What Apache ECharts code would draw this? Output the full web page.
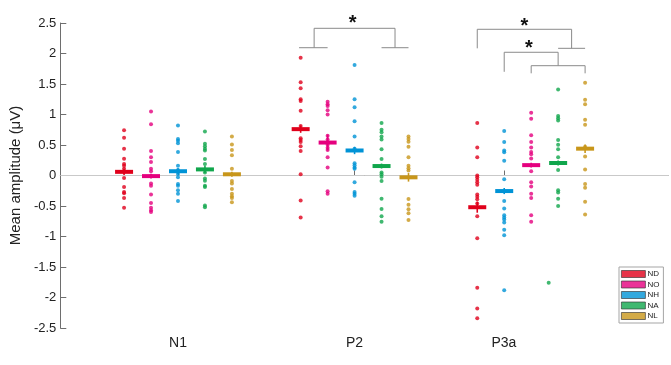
<!DOCTYPE html>
<html>
<head>
<meta charset="utf-8">
<script src="https://cdn.jsdelivr.net/npm/echarts@6/dist/echarts.min.js"></script>
<style>
html,body{margin:0;padding:0;background:#fff;}
#chart{width:671px;height:365px;}
</style>
</head>
<body>
<div id="chart"></div>
<script>
// ---------- data ----------
const groups = ['N1', 'P2', 'P3a'];
const conditions = ['ND', 'NO', 'NH', 'NA', 'NL'];
const colors = ['#E0001B', '#E5007E', '#0093D6', '#10A64C', '#C8961A'];
// column order of the conditions inside each group
const orderN1 = ['ND', 'NO', 'NH', 'NA', 'NL'];
const orderP2 = ['ND', 'NO', 'NH', 'NA', 'NL'];
const orderP3a = ['ND', 'NH', 'NO', 'NA', 'NL'];

// individual amplitudes (µV)
const N1_ND = [0.74, 0.62, 0.44, 0.275, 0.19, 0.16, 0.11, 0.06, -0.04, -0.19, -0.27, -0.29, -0.37, -0.53];
const N1_NO = [1.05, 0.84, 0.40, 0.30, 0.22, 0.11, 0.07, -0.01, -0.13, -0.17, -0.31, -0.45, -0.53, -0.57, -0.60];
const N1_NH = [0.82, 0.60, 0.57, 0.53, 0.385, 0.16, 0.09, 0.025, -0.03, -0.14, -0.17, -0.24, -0.30, -0.42];
const N1_NA = [0.72, 0.52, 0.48, 0.44, 0.41, 0.27, 0.19, 0.05, -0.05, -0.085, -0.17, -0.19, -0.49, -0.52];
const N1_NL = [0.64, 0.51, 0.42, 0.33, 0.11, -0.09, -0.13, -0.22, -0.30, -0.34, -0.37, -0.44];

const P2_ND = [1.93, 1.53, 1.43, 1.25, 1.22, 1.06, 0.81, 0.61, 0.58, 0.55, 0.48, 0.40, 0.02, -0.41, -0.69];
const P2_NO = [1.21, 1.17, 1.14, 1.07, 1.00, 0.65, 0.59, 0.505, 0.455, 0.42, 0.30, 0.13, -0.26, -0.30];
const P2_NH = [1.81, 1.25, 1.12, 0.89, 0.64, 0.44, 0.20, 0.17, 0.13, 0.11, -0.11, -0.27, -0.30, -0.33];
const P2_NA = [0.86, 0.75, 0.71, 0.64, 0.59, 0.43, 0.27, 0.05, 0.02, -0.02, -0.09, -0.38, -0.55, -0.67, -0.76];
const P2_NL = [0.64, 0.60, 0.555, 0.47, 0.30, 0.16, 0.12, 0.08, -0.385, -0.48, -0.555, -0.62, -0.73];

const P3a_ND = [0.86, 0.46, 0.30, 0.00, -0.03, -0.07, -0.11, -0.15, -0.31, -0.35, -0.39, -0.46, -0.67, -1.03, -1.84, -2.18, -2.34];
const P3a_NO = [1.03, 0.93, 0.66, 0.55, 0.46, 0.385, 0.35, 0.28, 0.07, -0.11, -0.18, -0.30, -0.37, -0.65, -0.76];
const P3a_NH = [0.73, 0.55, 0.41, 0.38, 0.24, -0.06, -0.42, -0.54, -0.65, -0.69, -0.72, -0.77, -0.89, -0.98, -1.88];
const P3a_NA = [1.41, 0.975, 0.94, 0.90, 0.58, 0.505, 0.43, 0.30, 0.09, -0.24, -0.28, -0.38, -0.50];
const P3a_NL = [1.52, 1.24, 1.17, 0.915, 0.83, 0.47, 0.31, 0.10, -0.14, -0.20, -0.43, -0.64];
const P3a_NA_outlier = -1.76;   // drawn slightly left of its column

// group means and error (SEM) per condition, in order N1, P2, P3a
const meanND = [0.06, 0.76, -0.52];
const meanNO = [-0.01, 0.54, 0.17];
const meanNH = [0.07, 0.41, -0.255];
const meanNA = [0.10, 0.155, 0.205];
const meanNL = [0.02, -0.03, 0.44];
const errND = [0.05, 0.06, 0.09];
const errNO = [0.04, 0.13, 0.04];
const errNH = [0.05, 0.06, 0.05];
const errNA = [0.06, 0.04, 0.04];
const errNL = [0.04, 0.07, 0.07];

// ---------- layout (x axis in "column" units) ----------
const xMax = 22.54;
const groupCenters = [4.365, 10.915, 17.465];
const tickPositions = [4.365, 10.915, 16.455];

const dots = {
  N1: {ND: N1_ND, NO: N1_NO, NH: N1_NH, NA: N1_NA, NL: N1_NL},
  P2: {ND: P2_ND, NO: P2_NO, NH: P2_NH, NA: P2_NA, NL: P2_NL},
  P3a: {ND: P3a_ND, NO: P3a_NO, NH: P3a_NH, NA: P3a_NA, NL: P3a_NL}
};
const orders = {N1: orderN1, P2: orderP2, P3a: orderP3a};
const means = {ND: meanND, NO: meanNO, NH: meanNH, NA: meanNA, NL: meanNL};
const errs = {ND: errND, NO: errNO, NH: errNH, NA: errNA, NL: errNL};

function colX(g, c) {
  const gi = groups.indexOf(g);
  return groupCenters[gi] + (orders[g].indexOf(c) - 2);
}

// significance brackets: [x1, y1, x2, y2] segments in data units
const cx = colX;
const P2a = (cx('P2','ND') + cx('P2','NO')) / 2, P2b = (cx('P2','NA') + cx('P2','NL')) / 2;
const P3aR = (cx('P3a','NA') + cx('P3a','NL')) / 2;
const brackets = [
  // P2
  [cx('P2','ND') - 0.06, 2.095, cx('P2','NO'), 2.095],
  [cx('P2','NA'), 2.095, cx('P2','NL'), 2.095],
  [P2a, 2.095, P2a, 2.413],
  [P2a, 2.413, P2b, 2.413],
  [P2b, 2.413, P2b, 2.095],
  // P3a: ND vs (NA,NL)
  [cx('P3a','ND'), 2.085, cx('P3a','ND'), 2.397],
  [cx('P3a','ND'), 2.397, P3aR, 2.397],
  [P3aR, 2.397, P3aR, 2.085],
  [cx('P3a','NA'), 2.085, cx('P3a','NL'), 2.085],
  // P3a: NH vs (NO..NL)
  [cx('P3a','NH'), 1.70, cx('P3a','NH'), 2.02],
  [cx('P3a','NH'), 2.02, cx('P3a','NA'), 2.02],
  [cx('P3a','NA'), 2.02, cx('P3a','NA'), 1.80],
  [cx('P3a','NO'), 1.80, cx('P3a','NL'), 1.80],
  [cx('P3a','NO'), 1.80, cx('P3a','NO'), 1.675],
  [cx('P3a','NL'), 1.80, cx('P3a','NL'), 1.675]
];
const stars = [
  [(P2a + P2b) / 2 - 0.07, 2.49],
  [(cx('P3a','ND') + P3aR) / 2, 2.445],
  [(cx('P3a','NH') + cx('P3a','NA')) / 2 - 0.08, 2.08]
];

// ---------- series ----------
const series = [];
const FONT = 'Liberation Sans, Arial, sans-serif';

// zero line
series.push({
  type: 'custom', silent: true, z: 1, data: [[0, 0]],
  renderItem: function (params, api) {
    const p1 = api.coord([0, 0]), p2 = api.coord([xMax, 0]);
    return {type: 'line', shape: {x1: p1[0], y1: p1[1], x2: p2[0], y2: p2[1]},
            style: {stroke: '#c9c9c9', lineWidth: 1}};
  }
});

conditions.forEach(function (c, ci) {
  const data = [];
  groups.forEach(function (g) {
    dots[g][c].forEach(function (v) { data.push([colX(g, c), v]); });
  });
  if (c === 'NA') data.push([colX('P3a', 'NA') - 0.35, P3a_NA_outlier]);
  series.push({
    name: c, type: 'scatter', z: 2, symbol: 'circle', symbolSize: 4,
    itemStyle: {color: colors[ci]}, data: data, silent: true
  });
});

conditions.forEach(function (c, ci) {
  const data = groups.map(function (g, gi) { return [colX(g, c), means[c][gi], errs[c][gi]]; });
  series.push({
    name: c, type: 'custom', z: 3, silent: true, data: data,
    renderItem: function (params, api) {
      const x = api.value(0), m = api.value(1), e = api.value(2);
      const pm = api.coord([x, m]), pt = api.coord([x, m + e]), pb = api.coord([x, m - e]);
      return {type: 'group', children: [
        {type: 'line', shape: {x1: pm[0], y1: pt[1], x2: pm[0], y2: pb[1]},
         style: {stroke: colors[ci], lineWidth: 1.6}},
        {type: 'rect', shape: {x: pm[0] - 9, y: pm[1] - 2, width: 18, height: 4},
         style: {fill: colors[ci]}}
      ]};
    }
  });
});

series.push({
  type: 'custom', silent: true, z: 4, clip: false, data: brackets,
  renderItem: function (params, api) {
    const a = api.coord([api.value(0), api.value(1)]), b = api.coord([api.value(2), api.value(3)]);
    return {type: 'line', shape: {x1: a[0], y1: a[1], x2: b[0], y2: b[1]},
            style: {stroke: '#8a8a8a', lineWidth: 1}};
  }
});
series.push({
  type: 'custom', silent: true, z: 4, clip: false, data: stars,
  renderItem: function (params, api) {
    const p = api.coord([api.value(0), api.value(1)]);
    return {type: 'text', x: p[0], y: p[1],
            style: {text: '*', fill: '#111', font: 'bold 20px ' + FONT, align: 'center', verticalAlign: 'middle'}};
  }
});

const chart = echarts.init(document.getElementById('chart'), null, {renderer: 'canvas'});
chart.setOption({
  animation: false,
  backgroundColor: '#ffffff',
  grid: {left: 52, right: 3, top: 23, bottom: 37},
  legend: {
    orient: 'vertical', left: 619, top: 267,
    data: conditions.map(function (c, ci) {
      return {name: c, icon: 'rect', itemStyle: {color: colors[ci], borderColor: '#333', borderWidth: 0.8}};
    }),
    itemWidth: 24, itemHeight: 7, itemGap: 2.5,
    padding: [3, 4, 3, 2],
    backgroundColor: '#fff', borderColor: '#a5a5a5', borderWidth: 1,
    textStyle: {fontSize: 8, color: '#222', fontFamily: FONT, padding: [0, 0, 0, -3]},
    selectedMode: false
  },
  xAxis: {
    type: 'value', min: 0, max: xMax,
    axisLine: {show: true, lineStyle: {color: '#6e6e6e'}},
    axisTick: {show: true, inside: true, length: 5, customValues: tickPositions, lineStyle: {color: '#6e6e6e'}},
    axisLabel: {
      customValues: tickPositions, margin: 8, fontSize: 14, color: '#222', fontFamily: FONT,
      formatter: function (v) {
        const i = tickPositions.findIndex(function (p) { return Math.abs(p - v) < 1e-6; });
        return i >= 0 ? groups[i] : '';
      }
    },
    splitLine: {show: false}
  },
  yAxis: {
    type: 'value', min: -2.5, max: 2.5, interval: 0.5,
    name: 'Mean amplitude (\u03BCV)', nameLocation: 'middle', nameGap: 29,
    nameTextStyle: {fontSize: 15, color: '#222', fontFamily: FONT},
    axisLine: {show: true, lineStyle: {color: '#6e6e6e'}},
    axisTick: {show: true, inside: true, length: 6, lineStyle: {color: '#6e6e6e'}},
    axisLabel: {fontSize: 13, color: '#222', margin: 4, fontFamily: FONT},
    splitLine: {show: false}
  },
  series: series
});
</script>
</body>
</html>
